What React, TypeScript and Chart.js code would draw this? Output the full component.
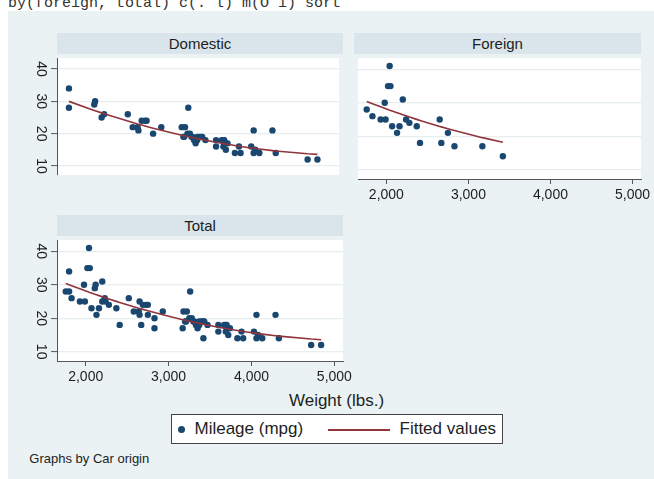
import React, { useEffect, useRef } from "react";
import { Chart, registerables } from "chart.js";
Chart.register(...registerables);

const panelTitles = ["Domestic", "Foreign", "Total"];
const xTicks = [2000, 3000, 4000, 5000];
const yTicks = [10, 20, 30, 40];
const xRange = [1654, 5104];
const yRange = [7.2, 43.4];

const domesticWeight = [2930, 3350, 2640, 3250, 4080, 3670, 2230, 3280, 3880, 3400, 4330, 3900, 4290, 2110, 3690, 3180, 3220, 2750, 3430, 2120, 3600, 3600, 3740, 1800, 2650, 4840, 4720, 3830, 2580, 4060, 3720, 3370, 4130, 2830, 4060, 3310, 3300, 3690, 3370, 2730, 4030, 3260, 1800, 2200, 2520, 3330, 3700, 3470, 3210, 3200, 3420, 2690];
const domesticMpg = [22, 17, 22, 20, 15, 18, 26, 20, 16, 19, 14, 14, 21, 29, 16, 22, 22, 24, 19, 30, 18, 16, 17, 28, 21, 12, 12, 14, 22, 14, 15, 18, 14, 20, 21, 19, 19, 18, 19, 24, 16, 28, 34, 25, 26, 18, 18, 18, 19, 19, 19, 24];

const foreignWeight = [2830, 2070, 2650, 2370, 2020, 2280, 2750, 2130, 2240, 1760, 1980, 3420, 1830, 2050, 2410, 2200, 2670, 2160, 2040, 1930, 1990, 3170];
const foreignMpg = [17, 23, 25, 23, 35, 24, 21, 21, 25, 28, 30, 14, 26, 35, 18, 31, 18, 23, 41, 25, 25, 17];

const fitWeight = [1760, 1800, 1830, 1930, 1980, 1990, 2020, 2040, 2050, 2070, 2110, 2120, 2130, 2160, 2200, 2230, 2240, 2280, 2370, 2410, 2520, 2580, 2640, 2650, 2670, 2690, 2730, 2750, 2830, 2930, 3170, 3180, 3200, 3210, 3220, 3250, 3260, 3280, 3300, 3310, 3330, 3350, 3370, 3400, 3420, 3430, 3470, 3600, 3670, 3690, 3700, 3720, 3740, 3830, 3880, 3900, 4030, 4060, 4080, 4130, 4290, 4330, 4720, 4840];
const fitMpg = [30.35, 29.98, 29.70, 28.78, 28.33, 28.24, 27.97, 27.79, 27.71, 27.53, 27.19, 27.10, 27.02, 26.76, 26.42, 26.17, 26.09, 25.77, 25.04, 24.73, 23.89, 23.44, 23.01, 22.93, 22.79, 22.65, 22.37, 22.23, 21.69, 21.03, 19.57, 19.51, 19.39, 19.34, 19.28, 19.11, 19.06, 18.95, 18.84, 18.78, 18.67, 18.57, 18.46, 18.30, 18.20, 18.15, 17.95, 17.32, 17.00, 16.91, 16.87, 16.78, 16.70, 16.32, 16.12, 16.04, 15.56, 15.46, 15.39, 15.23, 14.74, 14.63, 13.77, 13.58];

const FONT = "'Liberation Sans', Arial, sans-serif";
const BG = "#eaf2f3";
const STRIP = "#d9e5eb";
const NAVY = "#1a476f";
const MAROON = "#90353b";
const AXIS = "#555555";
const GRID = "#e6eef0";
const TEXT = "#1e1e1e";

const plotBg = {
  id: "plotBg",
  beforeDraw(chart: any) {
    const { ctx, chartArea: a } = chart;
    ctx.save();
    ctx.fillStyle = "#ffffff";
    ctx.fillRect(a.left, a.top, a.right - a.left, a.bottom - a.top);
    ctx.restore();
  },
};

function pts(ws: number[], ms: number[]) {
  return ws.map((w, i) => ({ x: w, y: ms[i] }));
}

function fitFor(ws: number[]) {
  const out: { x: number; y: number }[] = [];
  fitWeight.forEach((w, i) => {
    if (ws.includes(w)) out.push({ x: w, y: fitMpg[i] });
  });
  return out;
}

function makeConfig(ws: number[], ms: number[], showX: boolean, showY: boolean, padRight: number): any {
  return {
    type: "scatter",
    data: {
      datasets: [
        {
          type: "line",
          data: fitFor(ws),
          borderColor: MAROON,
          borderWidth: 1.6,
          pointRadius: 0,
          fill: false,
          tension: 0,
          order: 0,
        },
        {
          data: pts(ws, ms),
          backgroundColor: NAVY,
          borderColor: NAVY,
          borderWidth: 0,
          pointRadius: 3.2,
          order: 1,
        },
      ],
    },
    options: {
      animation: false,
      responsive: false,
      devicePixelRatio: 1,
      layout: { padding: { left: 0, top: 0, bottom: 0, right: padRight } },
      plugins: { legend: { display: false }, tooltip: { enabled: false } },
      scales: {
        x: {
          type: "linear",
          min: xRange[0],
          max: xRange[1],
          display: showX,
          afterBuildTicks: (s: any) => {
            s.ticks = xTicks.map((v) => ({ value: v }));
          },
          afterFit: (s: any) => {
            s.height = showX ? 29 : 0;
            s.paddingLeft = 0;
            s.paddingRight = 0;
          },
          ticks: {
            autoSkip: false,
            maxRotation: 0,
            minRotation: 0,
            padding: 3,
            color: TEXT,
            font: { family: FONT, size: 14 },
            callback: (v: any) => Number(v).toLocaleString("en-US"),
          },
          grid: {
            display: true,
            drawOnChartArea: false,
            drawTicks: true,
            tickLength: 5,
            tickColor: AXIS,
            tickWidth: 1,
          },
          border: { display: true, color: AXIS, width: 1 },
        },
        y: {
          type: "linear",
          min: yRange[0],
          max: yRange[1],
          display: true,
          afterBuildTicks: (s: any) => {
            s.ticks = yTicks.map((v) => ({ value: v }));
          },
          afterFit: (s: any) => {
            s.width = showY ? 37 : 0;
            s.paddingTop = 0;
            s.paddingBottom = 0;
          },
          ticks: {
            display: showY,
            autoSkip: false,
            minRotation: -90,
            maxRotation: -90,
            crossAlign: "center",
            padding: 2.5,
            color: TEXT,
            font: { family: FONT, size: 14 },
          },
          grid: {
            display: true,
            color: GRID,
            lineWidth: 1.2,
            drawTicks: showY,
            tickLength: 6,
            tickColor: AXIS,
            tickWidth: 1,
          },
          border: { display: showY, color: AXIS, width: 1 },
        },
      },
    },
    plugins: [plotBg],
  };
}

const abs = (l: number, t: number, w?: number, h?: number): React.CSSProperties => ({
  position: "absolute",
  left: l,
  top: t,
  ...(w !== undefined ? { width: w } : {}),
  ...(h !== undefined ? { height: h } : {}),
});

function Strip({ l, t, w, title }: { l: number; t: number; w: number; title: string }) {
  return (
    <div
      style={{
        ...abs(l, t, w, 21),
        background: STRIP,
        color: TEXT,
        fontFamily: FONT,
        fontSize: 15,
        lineHeight: "21px",
        textAlign: "center",
      }}
    >
      {title}
    </div>
  );
}

export default function App() {
  const domRef = useRef<HTMLCanvasElement>(null);
  const forRef = useRef<HTMLCanvasElement>(null);
  const totRef = useRef<HTMLCanvasElement>(null);

  useEffect(() => {
    const totalWeight = [...domesticWeight, ...foreignWeight];
    const totalMpg = [...domesticMpg, ...foreignMpg];
    const charts = [
      new Chart(domRef.current as HTMLCanvasElement, makeConfig(domesticWeight, domesticMpg, false, true, 0)),
      new Chart(forRef.current as HTMLCanvasElement, makeConfig(foreignWeight, foreignMpg, true, false, 13)),
      new Chart(totRef.current as HTMLCanvasElement, makeConfig(totalWeight, totalMpg, true, true, 17)),
    ];
    return () => charts.forEach((c) => c.destroy());
  }, []);

  return (
    <>
      <div style={{ ...abs(8, 0, 420, 11), overflow: "hidden" }}>
        <span
          style={{
            position: "absolute",
            left: 0,
            top: -4,
            whiteSpace: "pre",
            fontFamily: "'Liberation Mono', monospace",
            fontSize: 15,
            lineHeight: "15px",
            color: "#333",
          }}
        >
          {"by(foreign, total) c(. l) m(O i) sort"}
        </span>
      </div>
      <div style={{ ...abs(8, 11, 646, 468), background: BG, overflow: "hidden" }}>
        <Strip l={49} t={22} w={286} title={panelTitles[0]} />
        <Strip l={346} t={22} w={287} title={panelTitles[1]} />
        <Strip l={49} t={204} w={286} title={panelTitles[2]} />
        <canvas ref={domRef} width={323} height={125} style={abs(12, 43, 323, 125)} />
        <canvas ref={forRef} width={300} height={154} style={abs(346, 43, 300, 154)} />
        <canvas ref={totRef} width={340} height={154} style={abs(12, 225, 340, 154)} />
        <div
          style={{
            ...abs(228.5, 379, 200, 22),
            fontFamily: FONT,
            fontSize: 17,
            lineHeight: "22px",
            textAlign: "center",
            color: TEXT,
          }}
        >
          Weight (lbs.)
        </div>
        <div
          style={{
            ...abs(162.5, 403, 332, 30),
            boxSizing: "border-box",
            background: "#fff",
            border: "1px solid #444",
            fontFamily: FONT,
            fontSize: 17,
            color: TEXT,
          }}
        >
          <div style={{ ...abs(6.5, 11, 7, 7), borderRadius: "50%", background: NAVY }} />
          <div style={{ ...abs(23, 3, 130, 22), lineHeight: "22px", whiteSpace: "nowrap" }}>Mileage (mpg)</div>
          <div style={{ ...abs(156, 13.5, 62, 2), background: MAROON }} />
          <div style={{ ...abs(228, 3, 110, 22), lineHeight: "22px", whiteSpace: "nowrap" }}>Fitted values</div>
        </div>
        <div
          style={{
            ...abs(21.3, 440, 200, 16),
            fontFamily: FONT,
            fontSize: 13,
            lineHeight: "16px",
            color: TEXT,
            whiteSpace: "nowrap",
          }}
        >
          Graphs by Car origin
        </div>
      </div>
    </>
  );
}
